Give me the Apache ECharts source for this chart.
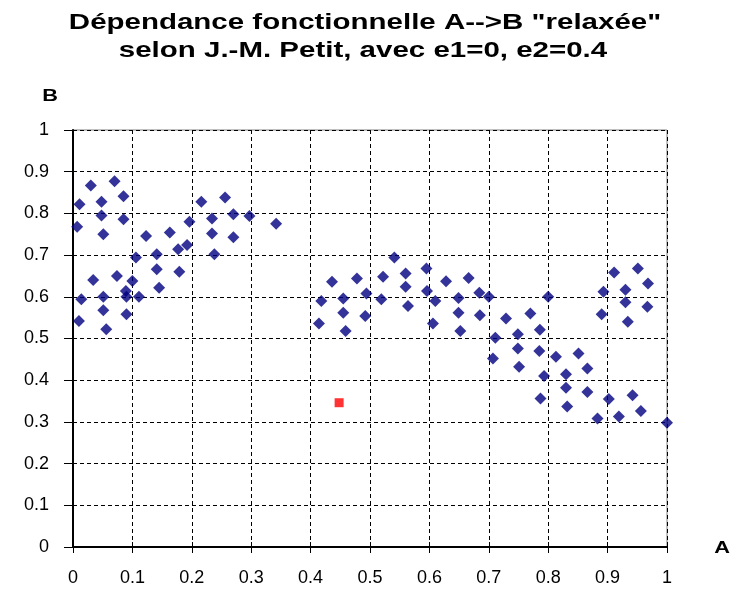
<!DOCTYPE html>
<html>
<head>
<meta charset="utf-8">
<script src="https://cdn.jsdelivr.net/npm/echarts@6/dist/echarts.min.js"></script>
<style>
  html, body { margin: 0; padding: 0; background: #ffffff; }
  #chart { width: 733px; height: 589px; }
</style>
</head>
<body>
<div id="chart"></div>
<script>
// Observed pairs (A, B)
const valuesA = [
  0.030, 0.070, 0.011, 0.048, 0.085, 0.048, 0.085, 0.007, 0.051, 0.196,
  0.216, 0.256, 0.234, 0.270, 0.297, 0.342, 0.234, 0.270, 0.123, 0.163,
  0.177, 0.192, 0.238, 0.106, 0.141, 0.141, 0.179, 0.034, 0.074, 0.100,
  0.145, 0.014, 0.051, 0.089, 0.090, 0.111, 0.051, 0.090, 0.010, 0.056,
  0.436, 0.478, 0.522, 0.541, 0.560, 0.595, 0.628, 0.418, 0.455, 0.494,
  0.519, 0.560, 0.596, 0.610, 0.649, 0.455, 0.492, 0.564, 0.649, 0.414,
  0.459, 0.606, 0.652, 0.666,
  0.684, 0.700, 0.685, 0.800, 0.729, 0.770, 0.711, 0.749, 0.786, 0.749,
  0.785, 0.707, 0.751, 0.813, 0.851, 0.866, 0.793, 0.830, 0.830, 0.787,
  0.832, 0.866, 0.902, 0.942, 0.956, 0.883, 0.919, 1.000,
  0.911, 0.951, 0.968, 0.893, 0.930, 0.930, 0.967, 0.890, 0.934
];
const valuesB = [
  0.867, 0.877, 0.822, 0.828, 0.841, 0.795, 0.786, 0.768, 0.750, 0.780,
  0.828, 0.838, 0.788, 0.798, 0.794, 0.775, 0.752, 0.743, 0.746, 0.754,
  0.714, 0.724, 0.702, 0.694, 0.702, 0.666, 0.660, 0.640, 0.650, 0.638,
  0.622, 0.594, 0.600, 0.614, 0.600, 0.600, 0.568, 0.558, 0.542, 0.522,
  0.636, 0.644, 0.648, 0.694, 0.656, 0.668, 0.637, 0.590, 0.596, 0.608,
  0.594, 0.624, 0.614, 0.590, 0.597, 0.562, 0.554, 0.578, 0.562, 0.536,
  0.518, 0.536, 0.518, 0.645,
  0.610, 0.600, 0.556, 0.600, 0.548, 0.560, 0.502, 0.510, 0.521, 0.476,
  0.470, 0.452, 0.432, 0.456, 0.464, 0.428, 0.410, 0.414, 0.382, 0.356,
  0.337, 0.372, 0.355, 0.364, 0.326, 0.308, 0.313, 0.298,
  0.658, 0.668, 0.632, 0.612, 0.617, 0.587, 0.576, 0.558, 0.540
];

// Point that violates the relaxed dependency
const outlierA = [0.448];
const outlierB = [0.346];

const tickLabels = ['0', '0.1', '0.2', '0.3', '0.4', '0.5', '0.6', '0.7', '0.8', '0.9', '1'];

const titleLines = [
  'Dépendance fonctionnelle A-->B "relaxée"',
  'selon J.-M. Petit, avec e1=0, e2=0.4'
];
const axisNameA = 'A';
const axisNameB = 'B';

const toPairs = (xs, ys) => xs.map((x, i) => [x, ys[i]]);
const tickFormatter = v => tickLabels[Math.round(v * 10)];

const FONT = 'Liberation Sans, Arial, sans-serif';
const labelFont = { color: '#000', fontFamily: FONT, fontSize: 18 };

// Bold, widened heading text
const wideText = (text, x, y, size, sx) => ({
  type: 'text', x: x, y: y, scaleX: sx, scaleY: 1,
  style: { text: text, fontFamily: FONT, fontWeight: 'bold', fontSize: size, fill: '#000',
           align: 'center', verticalAlign: 'middle' }
});

const baseAxis = { type: 'value', min: 0, max: 1, interval: 0.1, gridIndex: 0 };

const chart = echarts.init(document.getElementById('chart'), null, { renderer: 'canvas' });

chart.setOption({
  animation: false,
  backgroundColor: '#ffffff',
  grid: {
    left: 73, right: 66, top: 130, bottom: 42,
    show: true, borderColor: '#808080', borderWidth: 1, backgroundColor: '#ffffff'
  },
  graphic: [
    wideText(titleLines[0], 365, 23, 22, 1.34),
    wideText(titleLines[1], 363, 51, 22, 1.34),
    wideText(axisNameB, 50, 96, 17, 1.28),
    wideText(axisNameA, 722, 548, 17, 1.28)
  ],
  xAxis: [
    Object.assign({}, baseAxis, {
      position: 'bottom',
      axisLine: { show: true, onZero: false, lineStyle: { color: '#000', width: 2 } },
      axisTick: { show: true, length: 6, lineStyle: { color: '#000', width: 1 } },
      axisLabel: Object.assign({ margin: 22, formatter: tickFormatter }, labelFont),
      splitLine: { show: true, lineStyle: { color: '#000', width: 1, type: [4, 3] } }
    }),
    Object.assign({}, baseAxis, {
      position: 'bottom',
      axisLine: { show: false, onZero: false },
      axisTick: { show: true, inside: true, length: 5, lineStyle: { color: '#000', width: 1 } },
      axisLabel: { show: false },
      splitLine: { show: false }
    })
  ],
  yAxis: [
    Object.assign({}, baseAxis, {
      position: 'left',
      axisLine: { show: true, onZero: false, lineStyle: { color: '#000', width: 2 } },
      axisTick: { show: true, length: 9, lineStyle: { color: '#000', width: 1 } },
      axisLabel: Object.assign({ margin: 24, formatter: tickFormatter }, labelFont),
      splitLine: { show: true, lineStyle: { color: '#000', width: 1, type: [4, 3] } }
    })
  ],
  series: [
    {
      type: 'scatter',
      xAxisIndex: 0, yAxisIndex: 0,
      data: toPairs(valuesA, valuesB),
      symbol: 'diamond',
      symbolSize: 12,
      itemStyle: { color: '#000080' },
      z: 3
    },
    {
      type: 'scatter',
      xAxisIndex: 0, yAxisIndex: 0,
      data: toPairs(outlierA, outlierB),
      symbol: 'rect',
      symbolSize: 9,
      itemStyle: { color: '#ff0000' },
      z: 4
    }
  ]
});
</script>
</body>
</html>
